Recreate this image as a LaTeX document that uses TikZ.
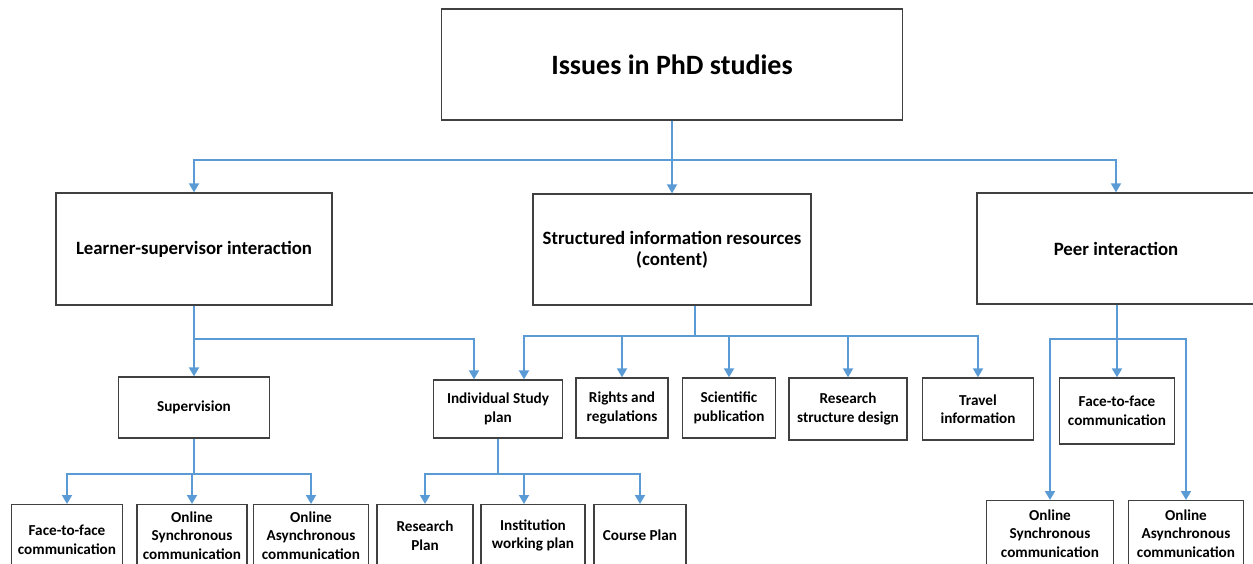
\documentclass[tikz,border=0pt]{standalone}
\usepackage{fontspec}
\setmainfont{Carlito}
\usetikzlibrary{arrows.meta}
\definecolor{wireblue}{RGB}{91,155,213}
\definecolor{boxgray}{RGB}{64,64,64}

\begin{document}
\begin{tikzpicture}[x=1pt,y=-1pt,
  issue node/.style={draw=boxgray,line width=1.3pt,fill=white,align=center,inner sep=0pt,
    font=\bfseries\fontsize{15.2}{18.5}\selectfont},
  head node/.style={issue node,font=\bfseries\fontsize{18.8}{21}\selectfont},
  wire/.style={draw=wireblue,line width=1.8pt},
  arrow/.style={wire,-{Triangle[width=10pt,length=9pt]}}]
  \useasboundingbox (0,0) rectangle (1253,564);

  \node[issue node,minimum width=461,minimum height=111,font=\bfseries\fontsize{28}{32}\selectfont] (top) at (672,64.5) {Issues in PhD studies};

  \node[head node,minimum width=276,minimum height=112] (learner) at (194,249) {Learner-supervisor interaction};
  \node[head node,minimum width=278,minimum height=111] (content) at (672,249.5) {Structured information resources\\(content)};
  \node[head node,minimum width=278,minimum height=111] (peer) at (1116,248.5) {Peer interaction};

  \node[issue node,minimum width=151,minimum height=61] (super) at (194,407.5) {Supervision};
  \node[issue node,minimum width=129,minimum height=58] (isp) at (498,409) {Individual Study\\plan};
  \node[issue node,minimum width=92,minimum height=60] (rights) at (622,408) {Rights and\\regulations};
  \node[issue node,minimum width=93,minimum height=60] (sci) at (729,408) {Scientific\\publication};
  \node[issue node,minimum width=118,minimum height=62] (rsd) at (848,409) {Research\\structure design};
  \node[issue node,minimum width=111,minimum height=62] (travel) at (978,409) {Travel\\information};
  \node[issue node,minimum width=115,minimum height=66] (pf2f) at (1117,411) {Face-to-face\\communication};

  \node[issue node,anchor=north,minimum width=111,minimum height=70] (f2f) at (67,504) {Face-to-face\\communication};
  \node[issue node,anchor=north,minimum width=110,minimum height=62] (osync) at (192,504) {Online\\Synchronous\\communication};
  \node[issue node,anchor=north,minimum width=115,minimum height=62] (oasync) at (311,504) {Online\\Asynchronous\\communication};
  \node[issue node,anchor=north,minimum width=96,minimum height=62] (rplan) at (425,504) {Research\\Plan};
  \node[issue node,anchor=north,minimum width=104,minimum height=62] (iwp) at (533,504) {Institution\\working plan};
  \node[issue node,anchor=north,minimum width=92,minimum height=62] (cplan) at (640,504) {Course Plan};
  \node[issue node,anchor=north,minimum width=127,minimum height=66] (posync) at (1050,500) {Online\\Synchronous\\communication};
  \node[issue node,anchor=north,minimum width=115,minimum height=66] (poasync) at (1186,500) {Online\\Asynchronous\\communication};

  % top level
  \draw[wire] (top.south) -- ++(0,39) coordinate (b0);
  \draw[arrow] (b0) -- (content);
  \draw[arrow] (b0) -| (learner);
  \draw[arrow] (b0) -| (peer);

  % learner-supervisor
  \draw[wire] (learner.south) -- ++(0,33) coordinate (b1);
  \draw[arrow] (b1) -| (super);
  \draw[arrow] (b1) -| ([xshift=-24pt]isp.north);

  % content
  \draw[wire] ([xshift=23pt]content.south) -- ++(0,30) coordinate (b2);
  \draw[arrow] (b2) -| ([xshift=26pt]isp.north);
  \draw[arrow] (b2) -| (rights);
  \draw[arrow] (b2) -| (sci);
  \draw[arrow] (b2) -| (rsd);
  \draw[arrow] (b2) -| (travel);

  % supervision
  \draw[wire] (super.south) -- ++(0,35) coordinate (b3);
  \draw[arrow] (b3) -| (f2f);
  \draw[arrow] (b3) -| (osync);
  \draw[arrow] (b3) -| (oasync);

  % study plan
  \draw[wire] (isp.south) -- ++(0,35) coordinate (b4);
  \draw[arrow] (b4) -| (rplan);
  \draw[arrow] (b4) -| ([xshift=-9pt]iwp.north);
  \draw[arrow] (b4) -| (cplan);

  % peer
  \draw[wire] ([xshift=1pt]peer.south) -- ++(0,34) coordinate (b5);
  \draw[arrow] (b5) -- (pf2f);
  \draw[arrow] (b5) -| (posync);
  \draw[arrow] (b5) -| (poasync);

\end{tikzpicture}
\end{document}
